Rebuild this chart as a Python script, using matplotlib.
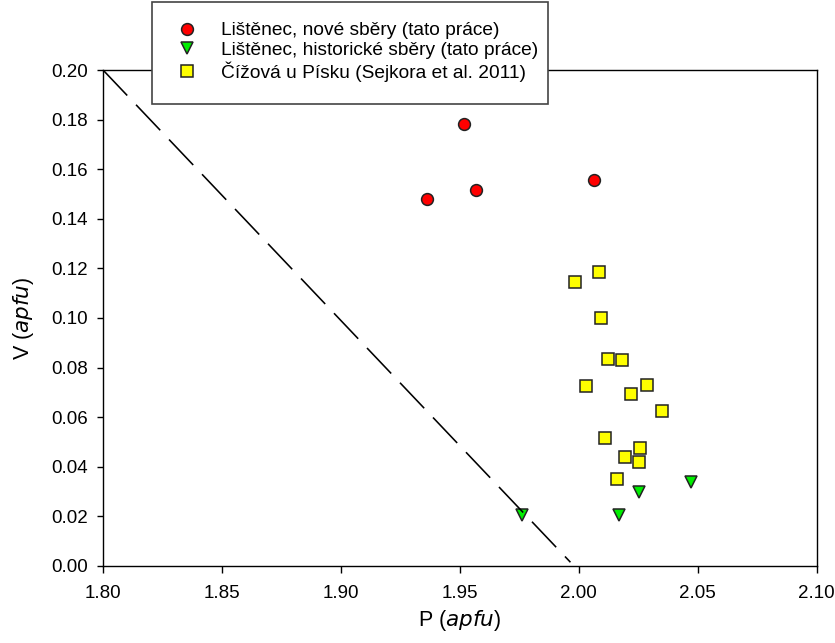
import matplotlib.pyplot as plt
from matplotlib.patches import Rectangle

plt.rcParams['font.family'] = ['Liberation Sans', 'DejaVu Sans']

# Lištěnec, new samples
new_p = [1.9361, 1.9517, 1.9569, 2.0064]
new_v = [0.1479, 0.1782, 0.1516, 0.1555]

# Lištěnec, historical samples
hist_p = [1.9762, 2.0168, 2.0252, 2.0473]
hist_v = [0.0205, 0.0205, 0.0300, 0.0338]

# Čížová u Písku (Sejkora et al. 2011)
ciz_p = [2.0084, 1.9985, 2.0094, 2.0122, 2.0182, 2.0032, 2.0287, 2.0221,
         2.0349, 2.0111, 2.0259, 2.0196, 2.0254, 2.0161]
ciz_v = [0.1184, 0.1145, 0.0999, 0.0836, 0.0831, 0.0726, 0.0731, 0.0695,
         0.0624, 0.0516, 0.0476, 0.0441, 0.0419, 0.0351]

# reference line P + V = 2
line_p = [1.80, 1.9965]
line_v = [0.20, 0.0015]

labels = ['Lištěnec, nové sběry (tato práce)',
          'Lištěnec, historické sběry (tato práce)',
          'Čížová u Písku (Sejkora et al. 2011)']

fig = plt.figure(figsize=(8.35, 6.43), dpi=100)
ax = fig.add_axes([0.1234, 0.1198, 0.8546, 0.7713])

h1, = ax.plot(new_p, new_v, 'o', ms=8.5, mfc='#ff0000', mec='#222222', mew=1.1,
              ls='none', label=labels[0], zorder=3)
h2, = ax.plot(hist_p, hist_v, 'v', ms=9, mfc='#00ee00', mec='#222222', mew=1.1,
              ls='none', label=labels[1], zorder=3)
h3, = ax.plot(ciz_p, ciz_v, 's', ms=8, mfc='#ffff00', mec='#222222', mew=1.1,
              ls='none', label=labels[2], zorder=3)
ax.plot(line_p, line_v, color='black', lw=1.15, dashes=(22, 8), zorder=4)

ax.set_xlim(1.80, 2.10)
ax.set_ylim(0.0, 0.20)
ax.set_xticks([1.80, 1.85, 1.90, 1.95, 2.00, 2.05, 2.10])
ax.set_yticks([0.00, 0.02, 0.04, 0.06, 0.08, 0.10, 0.12, 0.14, 0.16, 0.18, 0.20])
ax.xaxis.set_major_formatter(plt.FormatStrFormatter('%.2f'))
ax.yaxis.set_major_formatter(plt.FormatStrFormatter('%.2f'))
ax.tick_params(direction='out', width=1, labelsize=13.5)
ax.tick_params(axis='x', length=5, pad=9)
ax.tick_params(axis='y', length=4, pad=7)
for s in ax.spines.values():
    s.set_linewidth(1)

ax.set_xlabel('P ($\\it{apfu}$)', fontsize=15.5, labelpad=4)
ax.set_ylabel('V ($\\it{apfu}$)', fontsize=15.5, labelpad=11)

# legend box drawn separately so its padding can match the original
fig.patches.append(Rectangle((152 / 835, 1 - 104 / 643), 396 / 835, 102 / 643,
                             transform=fig.transFigure, facecolor='white',
                             edgecolor='#444444', lw=1.2, zorder=5))
leg = fig.legend(handles=[h1, h2, h3], loc='center left',
                 bbox_to_anchor=(168 / 835, 1 - 52 / 643), fontsize=13.8,
                 frameon=False, borderpad=0, handletextpad=0.75,
                 labelspacing=0.13, borderaxespad=0, handlelength=2.0)
leg.set_zorder(6)

fig.savefig('out.png', dpi=100)
